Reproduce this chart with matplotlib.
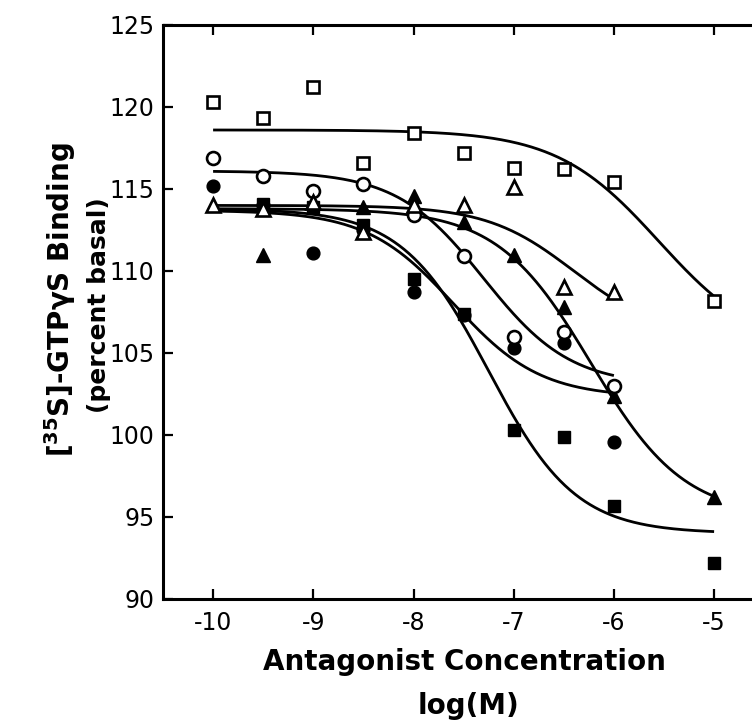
import numpy as np
import matplotlib
matplotlib.use("Agg")
import matplotlib.pyplot as plt

plt.rcParams['font.family'] = ['DejaVu Sans']
plt.rcParams['mathtext.fontset'] = 'custom'
plt.rcParams['mathtext.rm'] = 'DejaVu Sans:bold'
plt.rcParams['mathtext.bf'] = 'DejaVu Sans:bold'

# ---------------- data ----------------
log_conc = [-10, -9.5, -9, -8.5, -8, -7.5, -7, -6.5, -6, -5]

open_square_x = [-10, -9.5, -9, -8.5, -8, -7.5, -7, -6.5, -6, -5]
open_square_y = [120.3, 119.3, 121.2, 116.6, 118.4, 117.2, 116.3, 116.2, 115.4, 108.2]

open_circle_x = [-10, -9.5, -9, -8.5, -8, -7.5, -7, -6.5, -6]
open_circle_y = [116.9, 115.8, 114.9, 115.3, 113.4, 110.9, 106.0, 106.3, 103.0]

open_triangle_x = [-10, -9.5, -9, -8.5, -8, -7.5, -7, -6.5, -6]
open_triangle_y = [114.0, 113.8, 114.2, 112.4, 114.0, 114.0, 115.1, 109.0, 108.7]

filled_triangle_x = [-9.5, -8.5, -8, -7.5, -7, -6.5, -6, -5]
filled_triangle_y = [111.0, 113.9, 114.6, 113.0, 111.0, 107.8, 102.4, 96.2]

filled_circle_x = [-10, -9.5, -9, -8.5, -8, -7.5, -7, -6.5, -6]
filled_circle_y = [115.2, 114.0, 111.1, 112.5, 108.7, 107.3, 105.3, 105.6, 99.6]

filled_square_x = [-9.5, -9, -8.5, -8, -7.5, -7, -6.5, -6, -5]
filled_square_y = [114.1, 113.9, 112.8, 109.5, 107.4, 100.3, 99.9, 95.7, 92.2]

# fitted sigmoid parameters: (top, bottom, logEC50, hill slope, last x)
fit_open_square = (118.6, 105.0, -5.55, 0.85, -5)
fit_open_circle = (116.1, 103.0, -7.3, 1.0, -6)
fit_open_triangle = (114.0, 106.0, -6.4, 1.0, -6)
fit_filled_triangle = (113.8, 95.0, -6.23, 0.93, -5)
fit_filled_circle = (113.7, 102.3, -7.6, 1.0, -6)
fit_filled_square = (113.8, 94.0, -7.25, 1.0, -5)

x_ticks = [-10, -9, -8, -7, -6, -5]
y_ticks = [90, 95, 100, 105, 110, 115, 120, 125]

# ---------------- figure ----------------
fig = plt.figure(figsize=(7.52, 7.24), dpi=100)
ax = fig.add_axes([163/752, 1-599/724, 1-163/752, (599-25)/724])


def sigmoid(params):
    top, bottom, c, h, xend = params
    xs = np.linspace(-10, xend, 300)
    return xs, bottom + (top - bottom) / (1 + 10 ** ((xs - c) * h))


lw = 2.0
for p in [fit_open_square, fit_open_circle, fit_open_triangle,
          fit_filled_triangle, fit_filled_circle, fit_filled_square]:
    xs, ys = sigmoid(p)
    ax.plot(xs, ys, color='black', lw=lw, zorder=2, solid_capstyle='butt')

mew = 1.9
ax.plot(filled_square_x, filled_square_y, 's', ms=9.3, color='black', zorder=3, ls='none')
ax.plot(filled_circle_x, filled_circle_y, 'o', ms=9.2, color='black', zorder=3, ls='none')
ax.plot(filled_triangle_x, filled_triangle_y, '^', ms=9.5, color='black', zorder=3, ls='none')
ax.plot(open_square_x, open_square_y, 's', ms=9.3, mfc='white', mec='black', mew=mew, zorder=4, ls='none')
ax.plot(open_circle_x, open_circle_y, 'o', ms=9.3, mfc='white', mec='black', mew=mew, zorder=4, ls='none')
ax.plot(open_triangle_x, open_triangle_y, '^', ms=9.5, mfc='white', mec='black', mew=mew, zorder=4, ls='none')

ax.set_xlim(-10.5, -10.5 + (752 - 163) / 100.2)
ax.set_ylim(90, 125)
ax.set_xticks(x_ticks)
ax.set_yticks(y_ticks)
ax.set_xticklabels([str(t) for t in x_ticks])
ax.set_yticklabels([str(t) for t in y_ticks])
ax.tick_params(direction='in', length=7, width=1.6, labelsize=17,
               top=True, right=False)
ax.tick_params(axis='y', pad=6)
ax.tick_params(axis='x', pad=9)
ax.spines['right'].set_visible(False)
for s in ['left', 'bottom', 'top']:
    ax.spines[s].set_linewidth(2.2)

fig.text(464/752, 1-662/724, 'Antagonist Concentration', ha='center', va='center',
         fontsize=20, fontweight='bold')
fig.text(468/752, 1-706/724, 'log(M)', ha='center', va='center',
         fontsize=20, fontweight='bold')
fig.text(60/752, 1-300/724, r'[$\mathregular{^{35}}$S]-GTPγS Binding', ha='center', va='center',
         rotation=90, fontsize=20, fontweight='bold')
fig.text(99/752, 1-305/724, '(percent basal)', ha='center', va='center',
         rotation=90, fontsize=18, fontweight='bold')

fig.savefig('out.png', dpi=100)
